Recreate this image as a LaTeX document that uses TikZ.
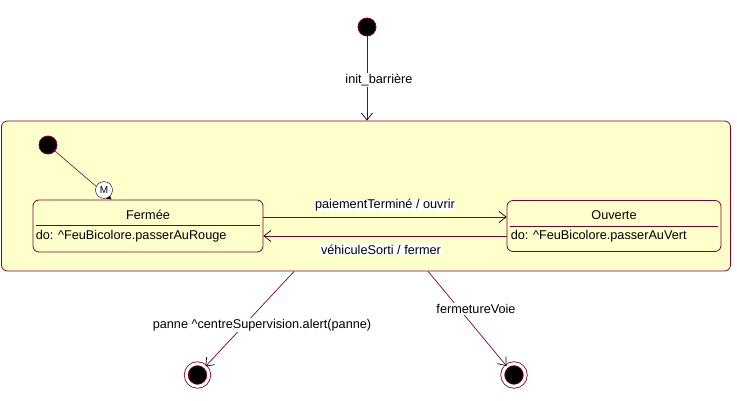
\documentclass[tikz,border=0pt]{standalone}
\usepackage{fontspec}
\setmainfont{Liberation Sans}
\usetikzlibrary{arrows.meta,calc}
\definecolor{bordeaux}{RGB}{128,0,48}
\definecolor{jaune}{RGB}{255,255,204}
\tikzset{
  etat/.style={draw=bordeaux,fill=jaune,rounded corners=6,inner sep=0,line width=0.8},
  init/.style={circle,draw=bordeaux,fill=black,minimum size=18,inner sep=0,line width=0.8},
  fin/.style={circle,draw=bordeaux,fill=black,double=white,double distance=3,minimum size=22.6,inner sep=0,line width=0.8},
  trans/.style={draw=bordeaux,line width=0.7,-{Straight Barb[length=7,width=11,color=black]}},
  etiquette/.style={fill=white,inner sep=1},
  texte/.style={inner sep=2},
}
\begin{document}
\begin{tikzpicture}[x=1pt,y=-1pt,font=\fontsize{12.7}{14}\selectfont]
  \useasboundingbox (0,0) rectangle (737,400);
  %Etat initial
  \node[init] (debut) at (367,27) {};
  %Super-etat
  \node[etat,minimum width=729,minimum height=150] (barriere) at (366,196) {};
  \draw[trans] (debut) -- (debut |- barriere.north);
  \node[etiquette] (lblInit) at (379,80) {init\_barrière};
  %Etats
  \node[etat,minimum width=230,minimum height=52] (fermee) at (148,226) {};
  \node[etat,minimum width=214,minimum height=51] (ouverte) at (614,226) {};
  \node[texte] (fermeeTitre) at (148,215) {Fermée};
  \node[texte] (ouverteTitre) at (614,215.5) {Ouverte};
  \draw[bordeaux,line width=0.8] ($(fermee.west)+(3,-0.5)$) -- ($(fermee.east)+(-3,-0.5)$);
  \draw[bordeaux,line width=0.8] ($(ouverte.west)+(3,0)$) -- ($(ouverte.east)+(-3,0)$);
  \node[texte,anchor=west] (fermeeDo) at ($(fermee.west)+(1,10)$) {do: \textasciicircum FeuBicolore.passerAuRouge};
  \node[texte,anchor=west] (ouverteDo) at ($(ouverte.west)+(2,10)$) {do: \textasciicircum FeuBicolore.passerAuVert};
  %Etat initial interne
  \node[init] (debut2) at (48,145) {};
  \draw[bordeaux,line width=0.6,-{Latex[length=5,width=6,color=black]}] (debut2) -- ($(fermee.north west)+(79,0)$);
  \node[circle,draw=black,fill=white,minimum size=17,inner sep=0,font=\fontsize{10}{11}\selectfont] (memo) at (104,190) {M};
  %Transitions internes
  \draw[trans] ($(fermee.east)+(0,-9)$) -- ($(ouverte.west)+(0,-9)$);
  \node[etiquette] (lblPaiement) at (385,205.5) {paiementTerminé / ouvrir};
  \draw[trans] ($(ouverte.west)+(0,10)$) -- ($(fermee.east)+(0,10)$);
  \node[etiquette] (lblSorti) at (381,249.5) {véhiculeSorti / fermer};
  %Etats finaux
  \node[fin] (fin1) at (197.5,375) {};
  \node[fin] (fin2) at (514,375) {};
  \coordinate (sortie1) at ($(barriere.south west)+(293,0)$);
  \coordinate (sortie2) at ($(barriere.south west)+(427,0)$);
  \draw[trans] (sortie1) -- (fin1);
  \draw[trans] (sortie2) -- (fin2);
  \node[etiquette] (lblPanne) at (262,325) {panne \textasciicircum centreSupervision.alert(panne)};
  \node[etiquette] (lblVoie) at (476,309) {fermetureVoie};
\end{tikzpicture}
\end{document}
